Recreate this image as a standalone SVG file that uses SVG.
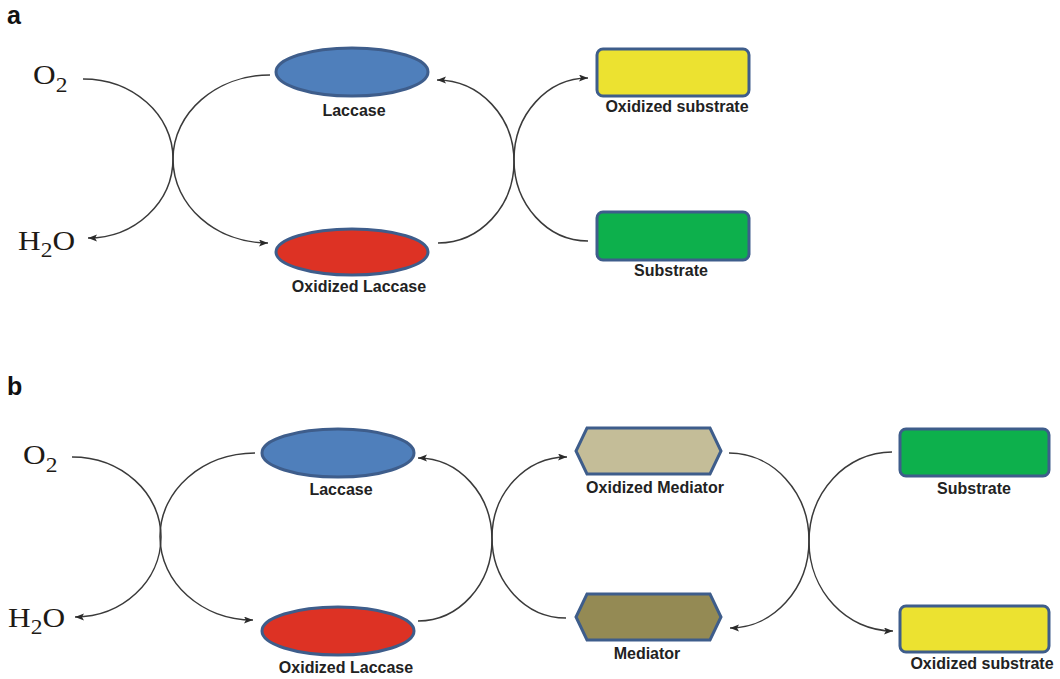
<svg xmlns="http://www.w3.org/2000/svg" width="1060" height="679" viewBox="0 0 1060 679">
<defs>
<marker id="arr" markerUnits="userSpaceOnUse" markerWidth="12" markerHeight="10" refX="9" refY="3.5" orient="auto">
<path d="M0,0 L9,3.5 L0,7 L2,3.5 z" fill="#2a2a2a"/>
</marker>
</defs>
<style>
.node{stroke:#3e5d8b;stroke-width:3}
.lbl{font-family:"Liberation Sans",Arial,sans-serif;font-weight:bold;font-size:16px;fill:#222;text-anchor:middle}
.chem{font-family:"Liberation Serif","Times New Roman",serif;font-size:28px;fill:#1e1a16}
.sub{font-size:21px}
.panel{font-family:"Liberation Sans",Arial,sans-serif;font-weight:bold;font-size:25px;fill:#111}
.conn{fill:none;stroke:#3a3a3a;stroke-width:1.5}
</style>
<rect width="1060" height="679" fill="#ffffff"/>

<text class="panel" x="7" y="24">a</text>
<text class="panel" x="7" y="395">b</text>

<g id="connectors">
<path class="conn" d="M83,79 C132.7,79 173,114.6 173,158.5 C173,202.4 134.9,238 88,238" marker-end="url(#arr)"/>
<path class="conn" d="M270,75 C216.5,75 173,112.6 173,159 C173,205.4 215.6,243 268,243" marker-end="url(#arr)"/>
<path class="conn" d="M438,243 C480,243 514,206.5 514,161.5 C514,116.5 479.5,80 437,80" marker-end="url(#arr)"/>
<path class="conn" d="M588,241 C547.2,241 514,204.5 514,159.5 C514,114.5 547.2,78 588,78" marker-end="url(#arr)"/>
<path class="conn" d="M72,457 C121.1,457 161,492.8 161,537 C161,581.2 122.5,617 75,617" marker-end="url(#arr)"/>
<path class="conn" d="M255,453 C202.6,453 160,490.4 160,536.5 C160,582.6 201.7,620 253,620" marker-end="url(#arr)"/>
<path class="conn" d="M418,621 C458.8,621 492,584.5 492,539.5 C492,494.5 458.8,458 418,458" marker-end="url(#arr)"/>
<path class="conn" d="M566,618 C525.2,618 492,581.9 492,537.5 C492,493.1 525.6,457 567,457" marker-end="url(#arr)"/>
<path class="conn" d="M729,453 C773.2,453 809,492.2 809,540.5 C809,588.8 773.6,628 730,628" marker-end="url(#arr)"/>
<path class="conn" d="M892,452 C846.2,452 809,492.1 809,541.5 C809,590.9 846.6,631 893,631" marker-end="url(#arr)"/>
</g>

<g id="a-o2"><text class="chem" transform="translate(33,84) scale(1.12,1)">O<tspan class="sub" dy="8">2</tspan></text></g>
<g id="a-h2o"><text class="chem" transform="translate(18,250) scale(1.12,1)">H<tspan class="sub" dy="7">2</tspan><tspan dy="-7">O</tspan></text></g>

<g id="a-laccase">
<ellipse class="node" cx="352" cy="72" rx="76" ry="24" fill="#4f7fbb"/>
<text class="lbl" x="354" y="116">Laccase</text>
</g>
<g id="a-oxlaccase">
<ellipse class="node" cx="352" cy="252" rx="76" ry="23" fill="#dd3224"/>
<text class="lbl" x="359" y="292">Oxidized Laccase</text>
</g>
<g id="a-oxsubstrate">
<rect class="node" x="597" y="49" width="152" height="47" rx="6" fill="#ece230"/>
<text class="lbl" x="677" y="112">Oxidized substrate</text>
</g>
<g id="a-substrate">
<rect class="node" x="597" y="212" width="152" height="48" rx="6" fill="#0db04c"/>
<text class="lbl" x="671" y="276">Substrate</text>
</g>

<g id="b-o2"><text class="chem" transform="translate(23,464) scale(1.12,1)">O<tspan class="sub" dy="8">2</tspan></text></g>
<g id="b-h2o"><text class="chem" transform="translate(8,627) scale(1.12,1)">H<tspan class="sub" dy="7">2</tspan><tspan dy="-7">O</tspan></text></g>

<g id="b-laccase">
<ellipse class="node" cx="338" cy="453" rx="76" ry="24" fill="#4f7fbb"/>
<text class="lbl" x="341" y="495">Laccase</text>
</g>
<g id="b-oxlaccase">
<ellipse class="node" cx="338" cy="631" rx="76" ry="24" fill="#dd3224"/>
<text class="lbl" x="346" y="673">Oxidized Laccase</text>
</g>
<g id="b-oxmediator">
<polygon class="node" points="587,428 710,428 721,451 710,474 587,474 576,451" fill="#c4bd98"/>
<text class="lbl" x="655" y="493">Oxidized Mediator</text>
</g>
<g id="b-mediator">
<polygon class="node" points="587,594 710,594 721,617 710,640 587,640 576,617" fill="#948a54"/>
<text class="lbl" x="647" y="659">Mediator</text>
</g>
<g id="b-substrate">
<rect class="node" x="900" y="429" width="149" height="47" rx="6" fill="#0db04c"/>
<text class="lbl" x="974" y="494">Substrate</text>
</g>
<g id="b-oxsubstrate">
<rect class="node" x="900" y="606" width="149" height="46" rx="6" fill="#ece230"/>
<text class="lbl" x="982" y="669">Oxidized substrate</text>
</g>
</svg>
